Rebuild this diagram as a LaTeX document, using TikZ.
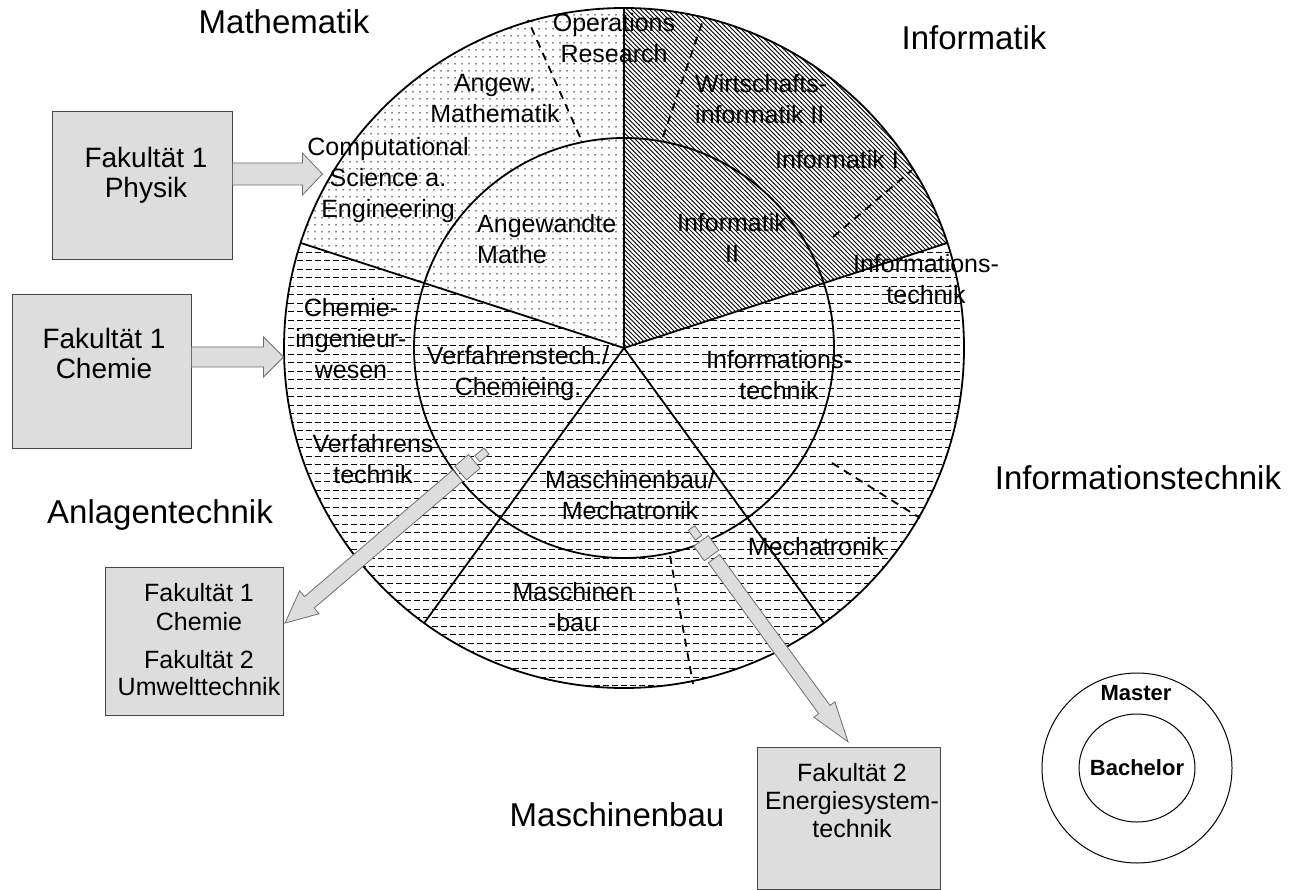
\documentclass[tikz,border=0pt]{standalone}
\usepackage{fontspec}
\setmainfont{Liberation Sans}
\usetikzlibrary{patterns}
\definecolor{boxgray}{RGB}{221,221,221}
\definecolor{edgegray}{RGB}{70,70,70}
\definecolor{arrowedge}{RGB}{110,110,110}
\pgfdeclarepatternformonly{mydots}{\pgfqpoint{-1pt}{-1pt}}{\pgfqpoint{1pt}{1pt}}{\pgfqpoint{7pt}{7pt}}{%
  \pgfpathcircle{\pgfqpoint{0pt}{0pt}}{0.75pt}\pgfusepath{fill}}
\pgfdeclarepatternformonly{myhatch}{\pgfqpoint{-1pt}{-1pt}}{\pgfqpoint{5.5pt}{5.5pt}}{\pgfqpoint{4.5pt}{4.5pt}}{%
  \pgfsetlinewidth{0.85pt}\pgfpathmoveto{\pgfqpoint{0pt}{4.5pt}}\pgfpathlineto{\pgfqpoint{4.6pt}{-0.1pt}}\pgfusepath{stroke}}
\pgfdeclarepatternformonly{myhdash}{\pgfqpoint{0pt}{-1pt}}{\pgfqpoint{9pt}{1pt}}{\pgfqpoint{9pt}{8.5pt}}{%
  \pgfsetlinewidth{1pt}\pgfpathmoveto{\pgfqpoint{0pt}{0pt}}\pgfpathlineto{\pgfqpoint{6pt}{0pt}}\pgfusepath{stroke}}
\begin{document}
\begin{tikzpicture}[x=1pt,y=-1pt,
  ring/.style={line width=1.8pt,black},
  dashsep/.style={line width=1.8pt,dash pattern=on 8pt off 6pt},
  lab/.style={font=\fontsize{25}{31}\selectfont,align=center,inner sep=0pt},
  corner/.style={font=\fontsize{33}{38}\selectfont,inner sep=0pt},
  fakbox/.style={draw=edgegray,fill=boxgray,line width=0.9pt,inner sep=0pt},
  faktext/.style={align=center,inner sep=0pt},
  blockarrow/.style={fill=boxgray,draw=arrowedge,line width=0.8pt},
  legtext/.style={font=\fontsize{22}{26}\selectfont\bfseries,inner sep=0pt}]
\useasboundingbox (0,0) rectangle (1297,890);
\fill[white] (0,0) rectangle (1297,890);
\coordinate (C) at (624,348);
% sector fills
\fill[pattern=mydots] (C) -- ++(-162:340) arc[start angle=-162,end angle=-90,radius=340] -- cycle;
\fill[pattern=myhatch] (C) -- ++(-90:340) arc[start angle=-90,end angle=-18,radius=340] -- cycle;
\fill[pattern=myhdash] (C) -- ++(-18:340) arc[start angle=-18,end angle=198,radius=340] -- cycle;
% circles
\draw[ring] (C) circle[radius=340];
\draw[ring] (C) circle[radius=210];
\foreach \a in {-90,-162,126,54,-18} \draw[ring] (C) -- ++(\a:340);
% dashed separators
\draw[dashsep] (580,137) -- (528,20);
\draw[dashsep] (663,137) -- (703,20);
\draw[dashsep] (833,237) -- (912,170);
\draw[dashsep] (832,463) -- (920,518);
\draw[dashsep] (670,556) -- (693,684);
% circle labels
\node[lab] (lOR) at (614,38) {Operations\\Research};
\node[lab] (lAM) at (495,99) {Angew.\\Mathematik};
\node[lab] (lCSE) at (388,180) {Computational\\Science a.\\Engineering};
\node[lab,anchor=west,align=left] (lAMa) at (477,239) {Angewandte\\Mathe};
\node[lab,anchor=west,align=left] (lWI) at (695,99) {Wirtschafts-\\informatik II};
\node[lab] (lI1) at (837,160) {Informatik I};
\node[lab] (lI2) at (732,238) {Informatik\\II};
\node[lab] (lITo) at (926,279) {Informations-\\technik};
\node[lab] (lITi) at (779,375) {Informations-\\technik};
\node[lab] (lCI) at (351,339) {Chemie-\\ingenieur-\\wesen};
\node[lab] (lVC) at (518,374) {Verfahrenstech./\\Chemieing.};
\node[lab] (lVT) at (373,459) {Verfahrens\\technik};
\node[lab] (lMM) at (630,495) {Maschinenbau/\\Mechatronik};
\node[lab] (lMe) at (816,547) {Mechatronik};
\node[lab] (lMb) at (573,607) {Maschinen\\-bau};
% corner labels
\node[corner] (cMa) at (284,22) {Mathematik};
\node[corner] (cIn) at (974,38) {Informatik};
\node[corner] (cIT) at (1138,478) {Informationstechnik};
\node[corner] (cAn) at (160,515) {Anlagentechnik};
\node[corner] (cMb) at (617,815) {Maschinenbau};
% boxes
\node[fakbox,minimum width=180pt,minimum height=148pt] (b1) at (142,185) {};
\node[faktext,font=\fontsize{28}{30}\selectfont] (t1) at (146,175) {Fakultät 1\\Physik};
\node[fakbox,minimum width=179pt,minimum height=154pt] (b2) at (101.5,371) {};
\node[faktext,font=\fontsize{28}{30}\selectfont] (t2) at (104,353) {Fakultät 1\\Chemie};
\node[fakbox,minimum width=178pt,minimum height=148pt] (b3) at (194,641) {};
\node[faktext,font=\fontsize{25}{29}\selectfont] (t3a) at (199,607) {Fakultät 1\\Chemie};
\node[faktext,font=\fontsize{25}{27}\selectfont] (t3b) at (199,673) {Fakultät 2\\Umwelttechnik};
\node[fakbox,minimum width=183pt,minimum height=142pt] (b4) at (848.5,818) {};
\node[faktext,font=\fontsize{25}{28}\selectfont] (t4) at (852,801) {Fakultät 2\\Energiesystem-\\technik};
% block arrows
\coordinate (a1s) at (b1.east |- 0,174);
\draw[blockarrow,shift={(a1s)}] (0,-11) -- (70,-11) -- (70,-21) -- (90,0) -- (70,21) -- (70,11) -- (0,11) -- cycle;
\coordinate (a2s) at (b2.east |- 0,357);
\draw[blockarrow,shift={(a2s)}] (0,-10) -- (72,-10) -- (72,-20) -- (92,0) -- (72,20) -- (72,10) -- (0,10) -- cycle;
\coordinate (a3s) at (486.5,451);
\begin{scope}[shift={(a3s)},rotate=-139.5]
\draw[blockarrow] (0,-4) rectangle (12,4);
\draw[blockarrow] (16,-9) rectangle (34,9);
\draw[blockarrow] (38,-7.5) -- (233,-7.5) -- (233,-15) -- (265,0) -- (233,15) -- (233,7.5) -- (38,7.5) -- cycle;
\end{scope}
\coordinate (a4s) at (691.5,528);
\begin{scope}[shift={(a4s)},rotate=-53.8]
\draw[blockarrow] (0,-4) rectangle (12,4);
\draw[blockarrow] (16,-9) rectangle (34,9);
\draw[blockarrow] (38,-7) -- (225,-7) -- (225,-13) -- (265,0) -- (225,13) -- (225,7) -- (38,7) -- cycle;
\end{scope}
% legend
\coordinate (L) at (1137,768);
\draw[line width=1pt] (L) circle[radius=95];
\draw[line width=1pt] (L) ellipse[x radius=58,y radius=54];
\node[legtext] (lm) at (1136,693) {Master};
\node[legtext] (lb) at (1137,768) {Bachelor};
\end{tikzpicture}
\end{document}
